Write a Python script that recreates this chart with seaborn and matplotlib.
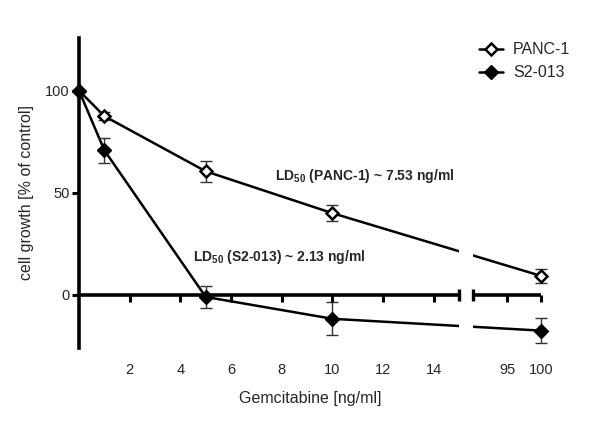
import numpy as np
import pandas as pd
import matplotlib
matplotlib.use("Agg")
import matplotlib.pyplot as plt
import seaborn as sns
from matplotlib.lines import Line2D

# ---- data ----
dose = [0, 1, 5, 10, 100]
panc1 = [100, 87.5, 60.5, 40.0, 9.3]
panc1_err = [0, 2.0, 5.0, 4.0, 3.5]
s2013 = [100, 70.8, -1.0, -11.7, -17.5]
s2013_err = [0, 6.0, 5.5, 8.0, 6.0]
series_names = ["PANC-1", "S2-013"]
xticks = [2, 4, 6, 8, 10, 12, 14, 95, 100]
yticks = [0, 50, 100]

# ---- broken x scale ----
B1, B2 = 15.0, 90.0
GAP = 0.55
K = 0.268


def fwd(x):
    x = np.asarray(x, dtype=float)
    return np.where(x <= B1, x,
                    np.where(x >= B2, B1 + GAP + (x - B2) * K,
                             B1 + (x - B1) * GAP / (B2 - B1)))


def inv(u):
    u = np.asarray(u, dtype=float)
    return np.where(u <= B1, u,
                    np.where(u >= B1 + GAP, B2 + (u - B1 - GAP) / K,
                             B1 + (u - B1) * (B2 - B1) / GAP))


sns.set_style("ticks")
plt.rcParams['font.family'] = ['Liberation Sans', 'DejaVu Sans']
plt.rcParams['mathtext.default'] = 'regular'

fig = plt.figure(figsize=(6.0, 4.3), dpi=100)
ax = fig.add_axes([79 / 600, 1 - 348 / 430, (541 - 79) / 600, (348 - 37.5) / 430])
ax.set_xscale('function', functions=(fwd, inv))
ax.set_xlim(0, 100)
ax.set_ylim(-26, 126)

df = pd.DataFrame({
    "dose": dose * 2,
    "growth": panc1 + s2013,
    "line": [series_names[0]] * len(dose) + [series_names[1]] * len(dose),
})
sns.lineplot(data=df, x="dose", y="growth", hue="line",
             palette=["black", "black"], linewidth=1.8, legend=False,
             ax=ax, zorder=2, clip_on=False)

# error bars
ax.errorbar(dose, panc1, yerr=panc1_err, fmt='none', ecolor='#333333',
            elinewidth=1.0, capsize=4, capthick=1.0, zorder=3, clip_on=False)
ax.errorbar(dose, s2013, yerr=s2013_err, fmt='none', ecolor='#333333',
            elinewidth=1.0, capsize=4, capthick=1.0, zorder=3, clip_on=False)

# markers
ax.plot(dose, panc1, linestyle='none', marker='D', markersize=6.5,
        markerfacecolor='white', markeredgecolor='black', markeredgewidth=1.8,
        zorder=5, clip_on=False)
ax.plot(dose, s2013, linestyle='none', marker='D', markersize=7.5,
        markerfacecolor='black', markeredgecolor='black', markeredgewidth=1.0,
        zorder=6, clip_on=False)

# white gap in the lines at the axis break
ax.axvspan(B1 + 0.02, B2 - 0.3, color='white', zorder=4, lw=0)

# spines
for s in ['top', 'right', 'bottom']:
    ax.spines[s].set_visible(False)
ax.spines['left'].set_linewidth(2.6)
ax.spines['left'].set_color('black')

# y ticks
ax.set_yticks(yticks)
ax.tick_params(axis='y', direction='out', length=5, width=2.2, color='black',
               labelsize=10.5, pad=1.5)

# x tick labels at bottom, tick marks drawn on zero line
ax.set_xticks(xticks)
ax.set_xticklabels([str(t) for t in xticks])
ax.tick_params(axis='x', length=0, labelsize=10.5, pad=11)

# broken x axis line at y = 0
ax.plot([0, B1], [0, 0], color='black', lw=2.6, zorder=7, solid_capstyle='butt', clip_on=False)
ax.plot([B2, 100], [0, 0], color='black', lw=2.6, zorder=7, solid_capstyle='butt', clip_on=False)
ax.plot(xticks, [0] * len(xticks), linestyle='none', marker=3, markersize=5,
        markeredgewidth=2.2, color='black', zorder=7, clip_on=False)
ax.plot([B1, B2], [0, 0], linestyle='none', marker='|', markersize=9,
        markeredgewidth=2.4, color='black', zorder=7, clip_on=False)

ax.set_xlabel("Gemcitabine [ng/ml]", fontsize=11.5, labelpad=10)
ax.set_ylabel("cell growth [% of control]", fontsize=11.5, labelpad=8)

# annotations
ax.text(7.73, 58, r"LD$_{50}$ (PANC-1) ~ 7.53 ng/ml", fontsize=10,
        fontweight='bold', ha='left', va='center', zorder=10)
ax.text(4.5, 18.5, r"LD$_{50}$ (S2-013) ~ 2.13 ng/ml", fontsize=10,
        fontweight='bold', ha='left', va='center', zorder=10)

# legend
handles = [
    Line2D([], [], color='black', lw=1.8, marker='D', markersize=6,
           markerfacecolor='white', markeredgecolor='black', markeredgewidth=1.8),
    Line2D([], [], color='black', lw=1.8, marker='D', markersize=7,
           markerfacecolor='black', markeredgecolor='black'),
]
fig.legend(handles, series_names, loc='upper left', bbox_to_anchor=(465 / 600, 1 - 28 / 430),
           frameon=False, fontsize=11.5, handlelength=1.5, handletextpad=0.6,
           labelspacing=0.5)

fig.savefig("out.png", dpi=100)
